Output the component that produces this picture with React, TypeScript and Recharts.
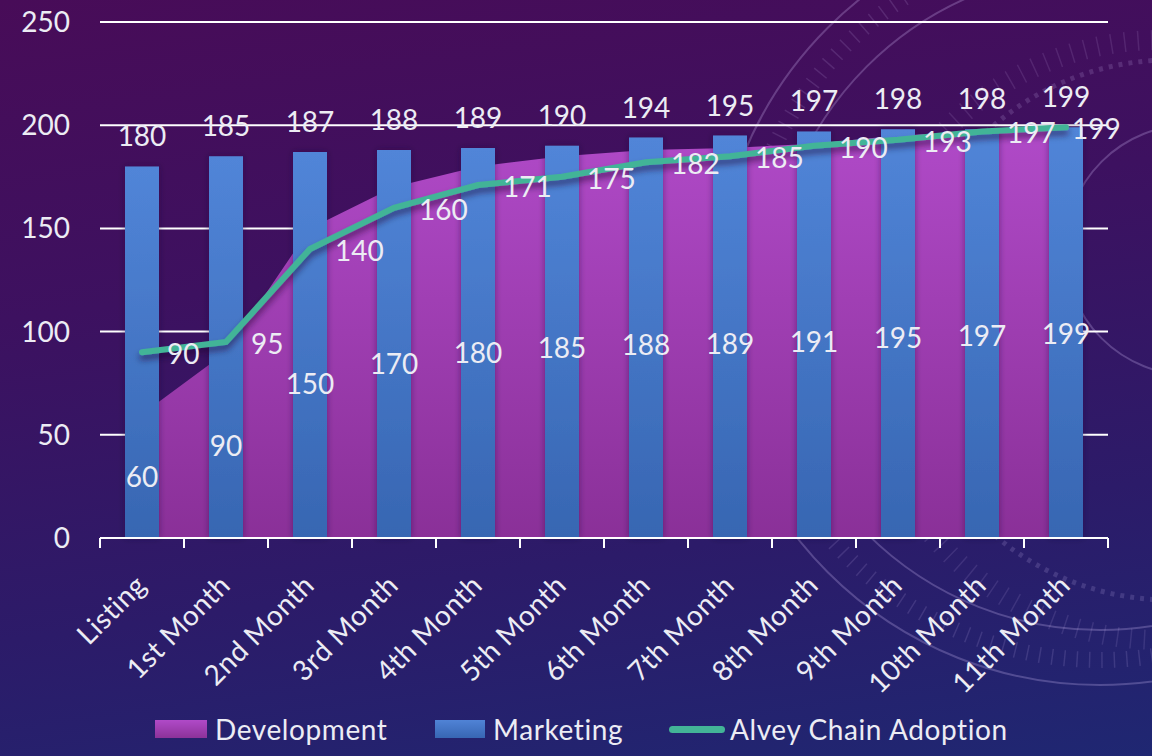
import { Area, Bar, CartesianGrid, ComposedChart, LabelList, Line, XAxis, YAxis } from "recharts";

const meses = [
  "Listing",
  "1st Month",
  "2nd Month",
  "3rd Month",
  "4th Month",
  "5th Month",
  "6th Month",
  "7th Month",
  "8th Month",
  "9th Month",
  "10th Month",
  "11th Month",
];
const development = [60, 90, 150, 170, 180, 185, 188, 189, 191, 195, 197, 199];
const marketing = [180, 185, 187, 188, 189, 190, 194, 195, 197, 198, 198, 199];
const adoption = [90, 95, 140, 160, 171, 175, 182, 185, 190, 193, 197, 199];
const ticksY = [0, 50, 100, 150, 200, 250];

const dados = meses.map((mes, i) => ({
  mes,
  development: development[i],
  marketing: marketing[i],
  adoption: adoption[i],
}));

const LARGURA = 1152;
const ALTURA = 756;
const MARGEM_TOPO = 22;
const MARGEM_DIREITA = 44;
const ALTURA_EIXO_X = 170;
const MARGEM_BAIXO = 48;
const BASE_PLOT = ALTURA - MARGEM_BAIXO - ALTURA_EIXO_X;
const LIMITE_DIREITO = LARGURA - 34;

const corTexto = "#ececf4";
const fonte = "Lato, 'Open Sans', sans-serif";

function TickMes(props: any) {
  const { x, y, payload, index } = props;
  const meia = payload?.offset ?? 42;
  const ultimo = index === meses.length - 1;
  const tx = x + 6;
  const ty = y + 49;
  return (
    <g>
      <line x1={x - meia} x2={x - meia} y1={y} y2={y + 10} stroke="#fff" strokeWidth={2} />
      {ultimo && <line x1={x + meia} x2={x + meia} y1={y} y2={y + 10} stroke="#fff" strokeWidth={2} />}
      <text
        x={tx}
        y={ty}
        transform={`rotate(-45, ${tx}, ${ty})`}
        textAnchor="end"
        fill={corTexto}
        fontSize={28}
        letterSpacing={0.5}
        fontFamily={fonte}
      >
        {payload.value}
      </text>
    </g>
  );
}

function RotuloArea(props: any) {
  const { x, y, value } = props;
  if (x == null || y == null) return null;
  return (
    <text
      x={x}
      y={(y + BASE_PLOT) / 2}
      textAnchor="middle"
      dominantBaseline="central"
      fill={corTexto}
      fontSize={28}
      fontFamily={fonte}
    >
      {value}
    </text>
  );
}

// rótulo à direita do ponto, mas sem passar da borda do gráfico
function RotuloLinha(props: any) {
  const { x, y, value } = props;
  if (x == null || y == null) return null;
  const inicio = Math.min(x + 25, LIMITE_DIREITO - 46);
  return (
    <text
      x={inicio}
      y={y + 1}
      textAnchor="start"
      dominantBaseline="central"
      fill={corTexto}
      fontSize={28}
      fontFamily={fonte}
    >
      {value}
    </text>
  );
}

function Decoracao() {
  return (
    <svg width={LARGURA} height={ALTURA} style={{ position: "absolute", left: 0, top: 0 }}>
      <g fill="none" stroke="rgba(220,200,255,0.25)" strokeWidth={2}>
        <circle cx={1100} cy={300} r={385} />
        <circle cx={1100} cy={300} r={330} />
        <circle cx={1190} cy={250} r={125} />
        <circle cx={1100} cy={300} r={360} stroke="rgba(220,200,255,0.14)" strokeWidth={16} strokeDasharray="1.5 11" />
        <circle cx={1170} cy={330} r={270} stroke="rgba(220,200,255,0.16)" strokeWidth={5} strokeDasharray="4 6" />
        <circle cx={1160} cy={340} r={300} stroke="rgba(220,200,255,0.12)" strokeWidth={20} strokeDasharray="1.5 12" />
      </g>
    </svg>
  );
}

function Legenda() {
  const item = { display: "flex", alignItems: "center", position: "absolute" as const, top: 711 };
  const texto = { color: corTexto, fontSize: 28, letterSpacing: 0.6, fontFamily: fonte, lineHeight: "36px" };
  return (
    <>
      <div style={{ ...item, left: 155 }}>
        <div style={{ width: 52, height: 18, background: "linear-gradient(#b04ac8, #8c3299)", marginRight: 8 }} />
        <span style={texto}>Development</span>
      </div>
      <div style={{ ...item, left: 435 }}>
        <div style={{ width: 50, height: 18, background: "linear-gradient(#5083d6, #3766b3)", marginRight: 8 }} />
        <span style={texto}>Marketing</span>
      </div>
      <div style={{ ...item, left: 669 }}>
        <div style={{ width: 56, height: 7, borderRadius: 4, background: "#43b497", marginRight: 5 }} />
        <span style={texto}>Alvey Chain Adoption</span>
      </div>
    </>
  );
}

export default function App() {
  return (
    <div
      style={{
        position: "absolute",
        left: 0,
        top: 0,
        width: LARGURA,
        height: ALTURA,
        overflow: "hidden",
        background: "linear-gradient(172deg, #480c58 0%, #3d1160 35%, #2c1b69 70%, #1f2772 100%)",
      }}
    >
      <Decoracao />
      <div style={{ position: "absolute", left: 0, top: 0 }}>
        <ComposedChart
          width={LARGURA}
          height={ALTURA}
          data={dados}
          margin={{ top: MARGEM_TOPO, right: MARGEM_DIREITA, left: 0, bottom: MARGEM_BAIXO }}
        >
          <defs>
            <linearGradient id="corDev" x1="0" x2="0" y1="0" y2="1">
              <stop offset="0%" stopColor="#b04ac8" />
              <stop offset="100%" stopColor="#8a3098" />
            </linearGradient>
            <linearGradient id="corMkt" x1="0" x2="0" y1="0" y2="1">
              <stop offset="0%" stopColor="#5185d8" />
              <stop offset="100%" stopColor="#3766b2" />
            </linearGradient>
            <filter id="sombraBarra" x="-30%" y="-10%" width="160%" height="120%">
              <feDropShadow dx="0" dy="0" stdDeviation="3" floodColor="#200030" floodOpacity="0.45" />
            </filter>
            <filter id="sombraLinha" x="-5%" y="-20%" width="110%" height="140%">
              <feDropShadow dx="0" dy="5" stdDeviation="3" floodColor="#1a0030" floodOpacity="0.55" />
            </filter>
          </defs>
          <CartesianGrid stroke="#ffffff" strokeWidth={2} vertical={false} />
          <XAxis
            dataKey="mes"
            height={ALTURA_EIXO_X}
            interval={0}
            axisLine={{ stroke: "#ffffff", strokeWidth: 2 }}
            tickLine={false}
            tickSize={0}
            tickMargin={0}
            tick={<TickMes />}
          />
          <YAxis
            domain={[0, 250]}
            ticks={ticksY}
            width={100}
            axisLine={false}
            tickLine={false}
            tickSize={0}
            tickMargin={30}
            tick={{ fill: corTexto, fontSize: 28, fontFamily: fonte }}
          />
          <Area
            dataKey="development"
            type="linear"
            fill="url(#corDev)"
            fillOpacity={1}
            stroke="none"
            isAnimationActive={false}
          >
            <LabelList dataKey="development" content={<RotuloArea />} />
          </Area>
          <Bar
            dataKey="marketing"
            barSize={34}
            fill="url(#corMkt)"
            filter="url(#sombraBarra)"
            isAnimationActive={false}
          >
            <LabelList
              dataKey="marketing"
              position="top"
              offset={20}
              fill={corTexto}
              fontSize={28}
              fontFamily={fonte}
            />
          </Bar>
          <Line
            dataKey="adoption"
            type="linear"
            stroke="#43b497"
            strokeWidth={6}
            strokeLinecap="round"
            filter="url(#sombraLinha)"
            dot={false}
            activeDot={false}
            isAnimationActive={false}
          >
            <LabelList dataKey="adoption" content={<RotuloLinha />} />
          </Line>
        </ComposedChart>
      </div>
      <Legenda />
    </div>
  );
}
